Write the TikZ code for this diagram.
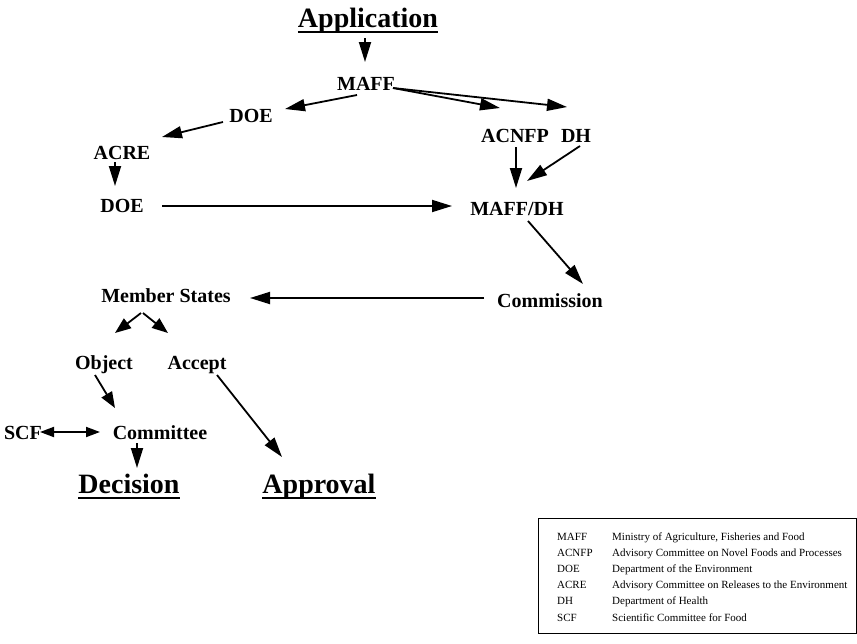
\documentclass[tikz,border=0pt]{standalone}
\usepackage{fontspec}
\setmainfont{Liberation Serif}
\usetikzlibrary{arrows.meta}
\tikzset{
  lbl/.style={font=\fontsize{20}{24}\selectfont\bfseries, inner sep=0pt, anchor=base},
  big/.style={font=\fontsize{28}{32}\selectfont\bfseries, inner sep=0pt, anchor=base},
  ul/.style={line width=2.4pt},
  arr/.style={line width=1.8pt, -{Triangle[length=20pt,width=12pt]}},
  sarr/.style={line width=1.8pt, -{Triangle[length=16pt,width=12pt]}},
  darr/.style={line width=1.8pt, {Triangle[length=14pt,width=10pt]}-{Triangle[length=14pt,width=10pt]}},
  leg/.style={font=\fontsize{11}{14}\selectfont, inner sep=0pt, anchor=base west}
}
\begin{document}
\begin{tikzpicture}[x=1pt,y=-1pt]
\useasboundingbox (0,0) rectangle (857,643);
% nodes
\node[big] (app) at (368,27) {Application};
\node[lbl] (maff) at (366,90) {MAFF};
\node[lbl] (doeA) at (251,122) {DOE};
\node[lbl] (acnfp) at (515,142) {ACNFP};
\node[lbl] (dh) at (576,142) {DH};
\node[lbl] (acre) at (122,159) {ACRE};
\node[lbl] (doeB) at (122,212) {DOE};
\node[lbl] (maffdh) at (517,215) {MAFF/DH};
\node[lbl] (comm) at (550,307) {Commission};
\node[lbl] (ms) at (166,302) {Member States};
\node[lbl] (obj) at (104,369) {Object};
\node[lbl] (acc) at (197,369) {Accept};
\node[lbl] (scf) at (23,439) {SCF};
\node[lbl] (cttee) at (160,439) {Committee};
\node[big] (dec) at (129,493) {Decision};
\node[big] (appr) at (319,493) {Approval};
% underlines
\foreach \n in {app,dec,appr}
  \draw[ul] ([yshift=-5pt]\n.base west) -- ([yshift=-5pt]\n.base east);
% connectors
\draw[arr] ([shift={(-3,11)}]app.base) -- ([shift={(-1,-28)}]maff.base);
\draw[arr] ([shift={(-9,5)}]maff.base) -- ([shift={(34,-13)}]doeA.base);
\draw[arr] ([shift={(27,-2)}]maff.base) -- ([shift={(-15,-34)}]acnfp.base);
\draw[arr] ([shift={(27,-2)}]maff.base) -- ([shift={(-9,-35)}]dh.base);
\draw[arr] ([shift={(1,5)}]acnfp.base) -- ([shift={(-1,-27)}]maffdh.base);
\draw[arr] ([shift={(4,4)}]dh.base) -- ([shift={(10,-34)}]maffdh.base);
\draw[arr] ([shift={(-28,0)}]doeA.base) -- ([shift={(40,-22)}]acre.base);
\draw[arr] ([shift={(-7,3)}]acre.base) -- ([shift={(-7,-26)}]doeB.base);
\draw[arr] ([shift={(40,-6)}]doeB.base) -- ([shift={(-65,-9)}]maffdh.base);
\draw[arr] ([shift={(11,6)}]maffdh.base) -- ([shift={(33,-23)}]comm.base);
\draw[arr] ([shift={(-66,-9)}]comm.base) -- ([shift={(84,-4)}]ms.base);
\draw[sarr] ([shift={(-25,11)}]ms.base) -- ([shift={(11,-36)}]obj.base);
\draw[sarr] ([shift={(-23,11)}]ms.base) -- ([shift={(-29,-36)}]acc.base);
\draw[sarr] ([shift={(-9,6)}]obj.base) -- ([shift={(-45,-31)}]cttee.base);
\draw[arr] ([shift={(20,6)}]acc.base) -- ([shift={(-37,-36)}]appr.base);
\draw[darr] ([shift={(17,-7)}]scf.base) -- ([shift={(-60,-7)}]cttee.base);
\draw[arr] ([shift={(-23,4)}]cttee.base) -- ([shift={(8,-25)}]dec.base);
% legend
\node[draw, line width=1.2pt, minimum width=318pt, minimum height=115pt, anchor=north west, inner sep=0pt] (legbox) at (538,518) {};
\node[leg] (k1) at (557,540) {MAFF};
\node[leg] (v1) at (612,540) {Ministry of Agriculture, Fisheries and Food};
\node[leg] (k2) at (557,556) {ACNFP};
\node[leg] (v2) at (612,556) {Advisory Committee on Novel Foods and Processes};
\node[leg] (k3) at (557,572) {DOE};
\node[leg] (v3) at (612,572) {Department of the Environment};
\node[leg] (k4) at (557,588) {ACRE};
\node[leg] (v4) at (612,588) {Advisory Committee on Releases to the Environment};
\node[leg] (k5) at (557,604) {DH};
\node[leg] (v5) at (612,604) {Department of Health};
\node[leg] (k6) at (557,621) {SCF};
\node[leg] (v6) at (612,621) {Scientific Committee for Food};
\end{tikzpicture}
\end{document}
